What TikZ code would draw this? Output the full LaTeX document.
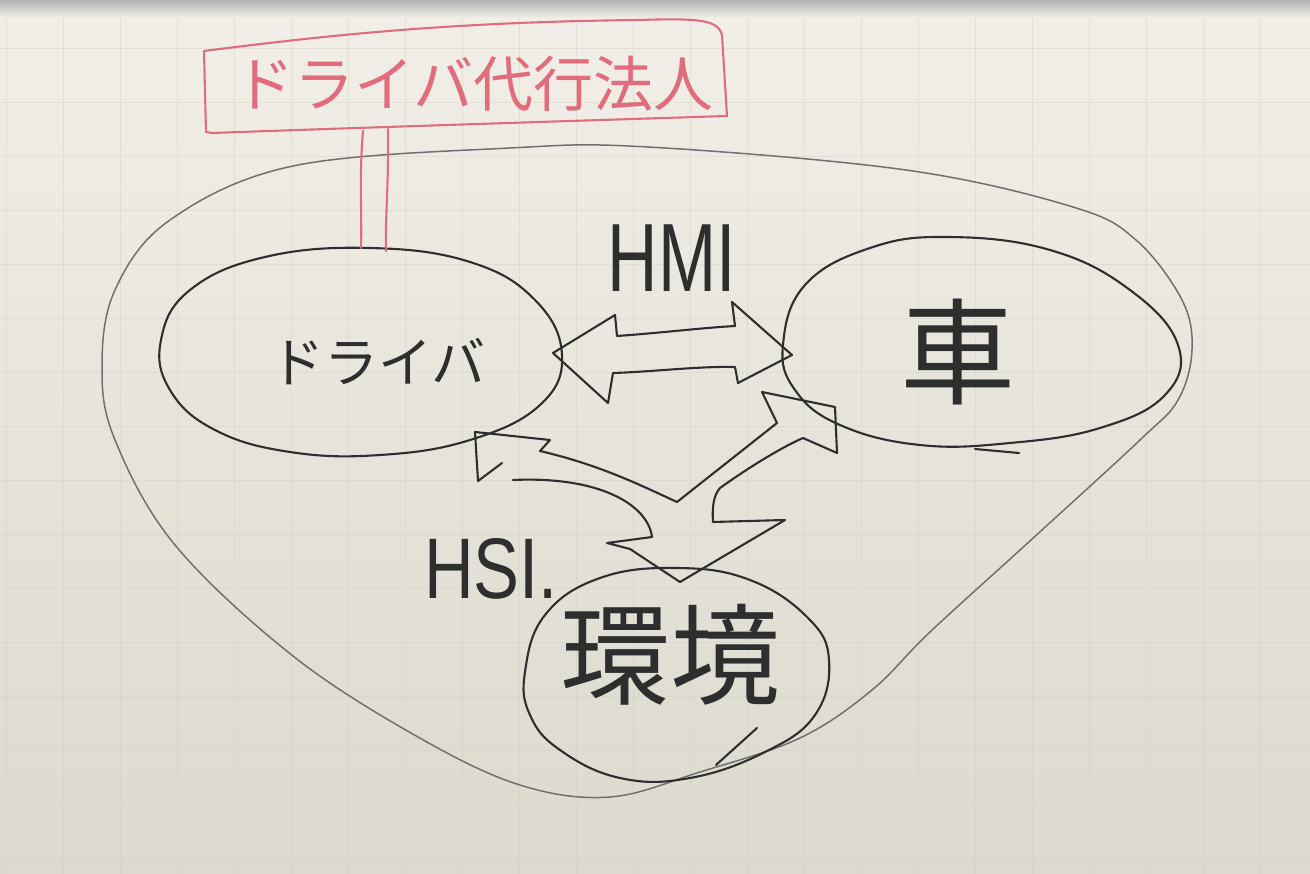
\documentclass[tikz,border=0pt]{standalone}
\usepackage{fontspec}
\setmainfont{Liberation Sans}
\newfontfamily\jp{Noto Sans CJK JP}
\definecolor{inkc}{HTML}{2E2E2E}
\definecolor{loopc}{HTML}{707070}
\definecolor{redc}{HTML}{E06C7C}
\definecolor{bgtop}{HTML}{F1EFE7}
\definecolor{bgbot}{HTML}{DCDACE}
\definecolor{gridc}{HTML}{CFCDC0}
\begin{document}
\begin{tikzpicture}[x=1pt,y=-1pt,
  ink/.style={draw=inkc, line width=2.1pt, line join=round, line cap=round},
  redink/.style={draw=redc, line width=2.1pt, line join=round, line cap=round},
  loopline/.style={draw=loopc, line width=1.5pt, line join=round},
  gridline/.style={draw=gridc, line width=0.8pt, opacity=0.4},
  lbl/.style={text=inkc, inner sep=0pt, anchor=center}]
\useasboundingbox (0,0) rectangle (1310,874);
% board
\shade[top color=bgtop, bottom color=bgbot] (0,0) rectangle (1310,874);
\shade[top color=black!35, bottom color=bgtop, opacity=0.8] (0,0) rectangle (1310,18);
\foreach \gx in {6,63,...,1310} \draw[gridline] (\gx,18) -- (\gx,874);
\foreach \gy in {48,102,...,874} \draw[gridline] (0,\gy) -- (1310,\gy);
% outer loop
\draw[loopline] plot[smooth cycle, tension=0.6] coordinates {
 (648,147) (906,170) (1073,207) (1136,240) (1182,300) (1192,350) (1178,400)
 (1140,440) (1031,540) (930,632) (872,690) (800,738) (700,772) (610,797)
 (520,785) (418,737) (293,656) (175,545) (115,440) (102,367) (115,290)
 (170,220) (293,166) (510,148)};
% driver ellipse
\draw[ink] plot[smooth cycle, tension=0.7] coordinates {
 (370,248) (470,262) (535,300) (562,355) (540,405) (470,440) (380,455)
 (290,452) (215,430) (170,390) (161,340) (190,290) (265,257)};
\coordinate (drvTopA) at (361,248);
\coordinate (drvTopB) at (386,251);
% car ellipse
\draw[ink] plot[smooth cycle, tension=0.7] coordinates {
 (783,345) (805,285) (870,248) (948,237) (1050,250) (1130,290) (1178,345)
 (1165,395) (1100,428) (1010,443) (920,445) (840,425) (795,390)};
\coordinate (carTailA) at (975,449);
\coordinate (carTailB) at (1019,453);
\draw[ink] (carTailA) -- (carTailB);
% environment circle
\draw[ink] plot[smooth cycle, tension=0.7] coordinates {
 (525,672) (545,615) (600,578) (677,568) (750,580) (808,618) (829,660)
 (815,715) (765,752) (690,778) (620,778) (560,750) (530,715)};
\coordinate (envStrA) at (757,728);
\coordinate (envStrB) at (716,765);
\draw[ink] (envStrA) -- (envStrB);
% red label box
\draw[redink] (206,132) -- (204,51) .. controls (330,35) and (450,22) .. (640,20)
  .. controls (700,18) and (718,20) .. (722,35) -- (727,116)
  .. controls (600,120) and (350,128) .. (212,133) -- cycle;
\coordinate (boxBotA) at (363,131);
\coordinate (boxBotB) at (388,129);
\draw[redink] (boxBotA) .. controls (359,180) and (362,210) .. (drvTopA);
\draw[redink] (boxBotB) .. controls (389,180) and (385,220) .. (drvTopB);
\node[lbl, text=redc, font=\jp\fontsize{60}{60}\selectfont] (agency) at (474,84) {ドライバ代行法人};
% texts
\node[lbl, font=\jp\fontsize{54}{54}\selectfont] (driver) at (378,362) {ドライバ};
\node[lbl, font=\jp\fontsize{115}{115}\selectfont] (car) at (958,352) {車};
\node[lbl, font=\jp\fontsize{110}{110}\selectfont] (env) at (670,655) {環境};
\node[lbl, xscale=0.72, font=\fontsize{97}{97}\selectfont] (hmi) at (672,258) {HMI};
\node[lbl, xscale=0.8, font=\fontsize{86}{86}\selectfont] (hsi) at (491,569) {HSI.};
% HMI double arrow
\draw[ink] (553,353) -- (615,315) -- (617,336) .. controls (660,333) and (700,328) .. (735,326)
  -- (732,302) -- (792,355) -- (738,383) -- (735,367)
  .. controls (700,366) and (650,372) .. (613,373) -- (608,403) -- cycle;
% HSI triple arrow
\draw[ink] (513,480) .. controls (600,476) and (648,505) .. (652,537)
  -- (607,543) -- (630,549) -- (680,582) -- (785,520) -- (713,522)
  .. controls (712,505) and (714,495) .. (720,488)
  .. controls (745,470) and (780,448) .. (803,438)
  -- (837,453) -- (835,407) -- (762,392) -- (777,423) -- (677,502)
  .. controls (640,485) and (600,465) .. (540,451) -- (550,440) -- (475,432)
  -- (478,481) -- (502,463);
\end{tikzpicture}
\end{document}
